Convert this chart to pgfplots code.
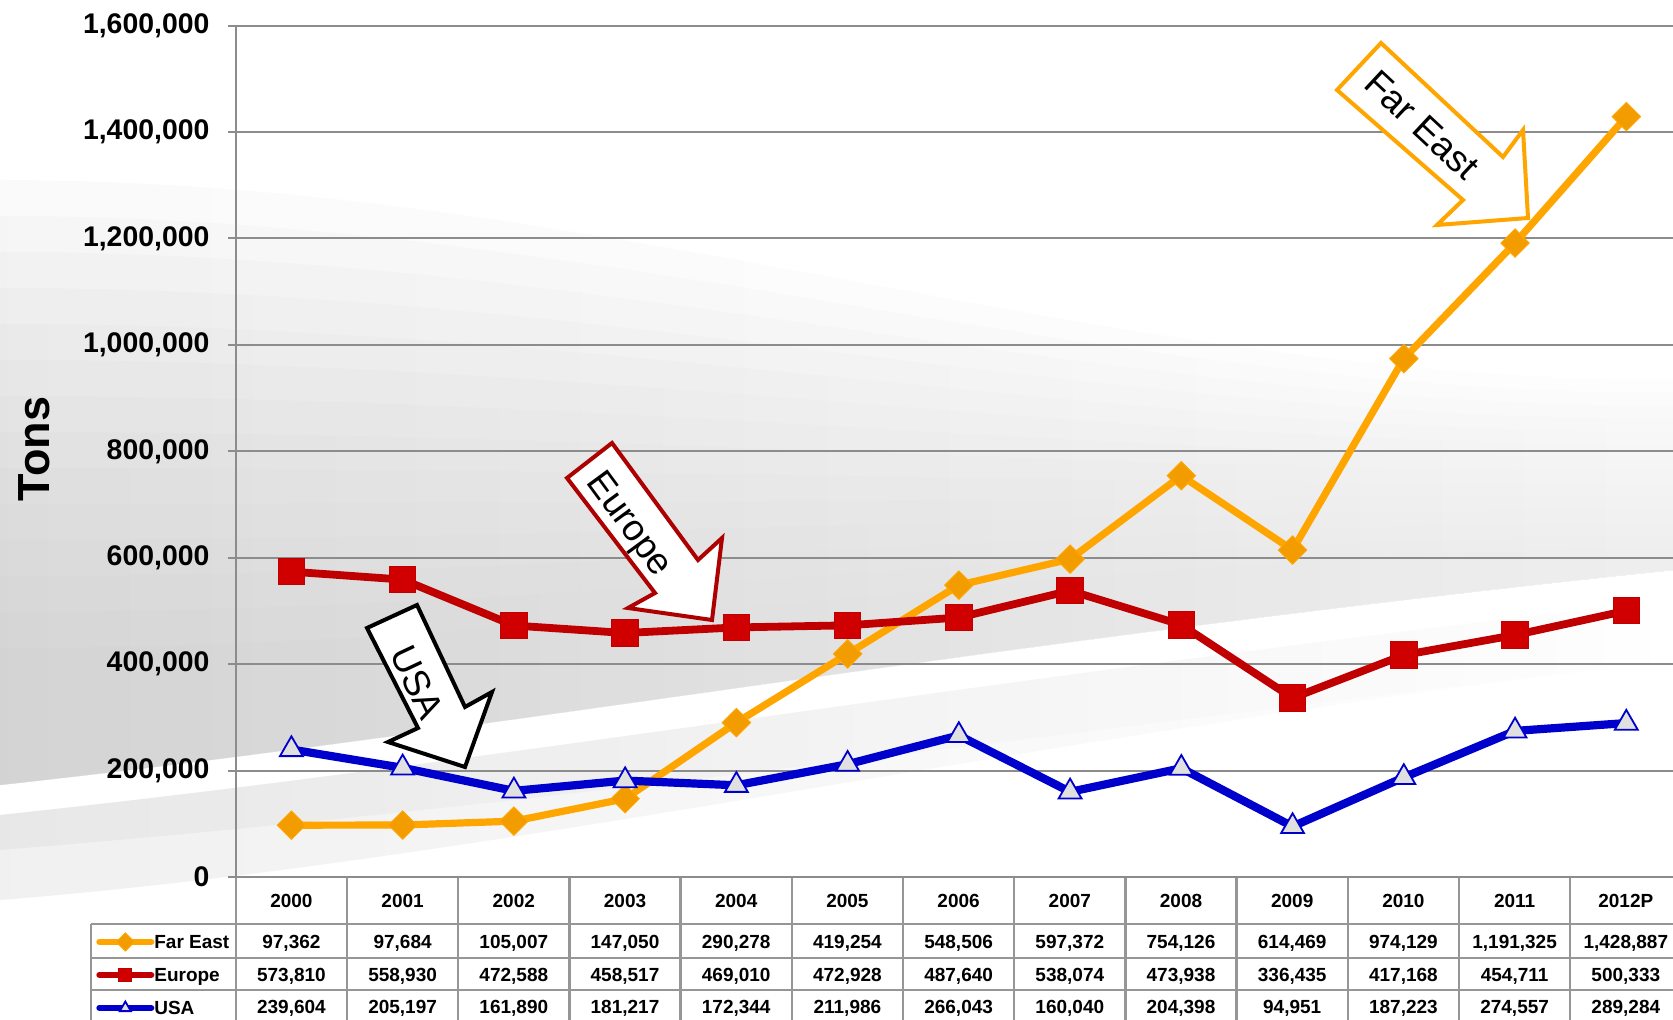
\documentclass[border=0pt]{standalone}
\usepackage{fontspec}
\setmainfont{Liberation Sans}
\usepackage{pgfplots}
\usepackage{pgfplotstable}
\pgfplotsset{compat=1.18}

\definecolor{fareast}{HTML}{FFA500}
\definecolor{fareastmk}{HTML}{F29C00}
\definecolor{europe}{HTML}{C00000}
\definecolor{europemk}{HTML}{D00000}
\definecolor{usa}{HTML}{0000CC}
\definecolor{gridgray}{HTML}{8C8C8C}
\definecolor{tablegray}{HTML}{969696}

% tons per year, 2000 .. 2012P (x = 0 .. 12)
\pgfplotstableread{
x  fareast  europe  usa
0  97362    573810  239604
1  97684    558930  205197
2  105007   472588  161890
3  147050   458517  181217
4  290278   469010  172344
5  419254   472928  211986
6  548506   487640  266043
7  597372   538074  160040
8  754126   473938  204398
9  614469   336435  94951
10 974129   417168  187223
11 1191325  454711  274557
12 1428887  500333  289284
}\datatable

\newcommand{\tabfont}{\bfseries\fontsize{9.5}{10}\selectfont}

\begin{document}
\begin{tikzpicture}[x=0.5pt,y=-0.5pt]
\useasboundingbox (0,0) rectangle (1673,1020);
\clip (0,0) rectangle (1673,1020);

% background: soft gray swoosh, darker to the lower left
\fill[white] (0,0) rectangle (1673,1020);
\foreach \i in {0,...,13}
  \shade[left color=black!23, right color=black!7, opacity=0.075]
    (0,{180+36*\i}) .. controls (600,{180+36*\i}) and (1100,{380+13*\i}) .. (1673,{380+13*\i})
    -- (1673,570) .. controls (1000,640) and (500,730) .. (0,785) -- cycle;
\foreach \b in {850,900}
  \shade[left color=black!14, right color=white, opacity=0.4]
    (0,815) .. controls (500,762) and (1000,675) .. (1673,600) -- (1673,660)
    .. controls (1000,740) and (500,\b-40) .. (0,\b) -- cycle;

% data table below the plot
\fill[white] (235.8,877) rectangle (1673,1020);
\fill[white] (90.7,924) rectangle (235.8,1020);
\foreach \k in {0,...,13}
  \draw[tablegray, line width=1.2pt] ({235.8+111.2*\k},877) -- ({235.8+111.2*\k},1020);
\foreach \yy in {924,958,990}
  \draw[tablegray, line width=1.2pt] (90.7,\yy) -- (1673,\yy);
\draw[tablegray, line width=1.2pt] (90.7,924) -- (90.7,1020);

\foreach \lab [count=\i] in {2000,2001,2002,2003,2004,2005,2006,2007,2008,2009,2010,2011,2012P}
  \node[font=\tabfont] at ({235.8+111.2*(\i-0.5)},900.5) {\lab};
\foreach \v [count=\i] in {97362,97684,105007,147050,290278,419254,548506,597372,754126,614469,974129,1191325,1428887}
  \node[font=\tabfont] at ({235.8+111.2*(\i-0.5)},943) {\pgfmathprintnumber[fixed,1000 sep={,},assume math mode=true]{\v}};
\foreach \v [count=\i] in {573810,558930,472588,458517,469010,472928,487640,538074,473938,336435,417168,454711,500333}
  \node[font=\tabfont] at ({235.8+111.2*(\i-0.5)},976) {\pgfmathprintnumber[fixed,1000 sep={,},assume math mode=true]{\v}};
\foreach \v [count=\i] in {239604,205197,161890,181217,172344,211986,266043,160040,204398,94951,187223,274557,289284}
  \node[font=\tabfont] at ({235.8+111.2*(\i-0.5)},1008) {\pgfmathprintnumber[fixed,1000 sep={,},assume math mode=true]{\v}};

\node[rotate=90, font=\bfseries\fontsize{22.5}{24}\selectfont] at (34,449) {Tons};

\begin{axis}[
    at={(117.9pt,-438.5pt)}, anchor=south west,
    scale only axis, width=718.6pt, height=425.7pt,
    xmin=-0.5, xmax=12.42, ymin=0, ymax=1600000,
    axis lines*=left,
    axis line style={gridgray, line width=1pt},
    xtick=\empty,
    ytick={0,200000,400000,600000,800000,1000000,1200000,1400000,1600000},
    ymajorgrids, grid style={gridgray, line width=1pt},
    tick style={gridgray, line width=1pt},
    tick align=outside, major tick length=4pt,
    scaled y ticks=false,
    /pgf/number format/fixed,
    /pgf/number format/1000 sep={,},
    /pgf/number format/assume math mode=true,
    y tick label style={font=\bfseries\fontsize{14.2}{15}\selectfont, inner sep=0pt, xshift=-9pt},
    legend style={at={(axis description cs:-0.0973,-0.0564)}, anchor=north west,
      draw=none, fill=none, inner sep=0pt, font=\tabfont, row sep=0pt,
      nodes={inner sep=0pt, text height=11.65pt, text depth=4.85pt},
      /tikz/every even column/.append style={column sep=4pt}},
    legend cell align=left,
    legend image code/.code={\draw[#1, line width=3pt, line cap=round, mark size=3.2pt,
      mark repeat=2, mark phase=2]
      plot coordinates {(0pt,0pt) (13pt,0pt) (26pt,0pt)};},
]
\addplot[fareast, line width=3.6pt, mark=square*, mark size=5pt,
  mark options={rotate=45, fill=fareastmk, draw=fareast, line width=0.5pt}]
  table[x=x, y=fareast]{\datatable};
\addlegendentry{Far East}
\addplot[europe, line width=3.9pt, mark=square*, mark size=6.6pt,
  mark options={fill=europemk, draw=europe, line width=0.5pt}]
  table[x=x, y=europe]{\datatable};
\addlegendentry{Europe}
\addplot[usa, line width=4.1pt, mark=triangle*, mark size=6.6pt,
  mark options={fill=black!12, draw=usa, line width=0.9pt}]
  table[x=x, y=usa]{\datatable};
\addlegendentry{USA}
\end{axis}

% callout arrows
\draw[black, line width=2pt, fill=white, line join=miter]
  (367,628) -- (417,605) -- (465,707) -- (492,692) -- (465,767) -- (388,742) -- (418,728) -- cycle;
\node[rotate=-64.8, font=\fontsize{18.5}{20}\selectfont] at (417,682) {USA};
\draw[europe!90!black, line width=2pt, fill=white, line join=miter]
  (567,478) -- (612,443) -- (698,560) -- (722,538) -- (712,620) -- (628,608) -- (655,593) -- cycle;
\node[rotate=-53.7, font=\fontsize{18.5}{20}\selectfont] at (628,525) {Europe};
\draw[fareast, line width=2pt, fill=white, line join=miter]
  (1337,90) -- (1381,43) -- (1503,157) -- (1523,130) -- (1528,218) -- (1437,225) -- (1463,200) -- cycle;
\node[rotate=-43, font=\fontsize{18.5}{20}\selectfont] at (1422,125) {Far East};
\end{tikzpicture}
\end{document}
